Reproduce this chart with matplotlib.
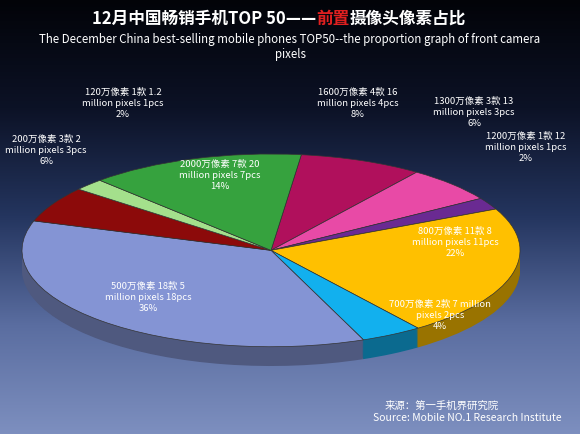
import matplotlib.pyplot as plt
import numpy as np
import matplotlib.colors as mcolors

plt.rcParams['font.family'] = ['Noto Sans CJK SC', 'DejaVu Sans']

labels = ["1600万像素 4款 16\nmillion pixels 4pcs\n8%",
          "1300万像素 3款 13\nmillion pixels 3pcs\n6%",
          "1200万像素 1款 12\nmillion pixels 1pcs\n2%",
          "800万像素 11款 8\nmillion pixels 11pcs\n22%",
          "700万像素 2款 7 million\npixels 2pcs\n4%",
          "500万像素 18款 5\nmillion pixels 18pcs\n36%",
          "200万像素 3款 2\nmillion pixels 3pcs\n6%",
          "120万像素 1款 1.2\nmillion pixels 1pcs\n2%",
          "2000万像素 7款 20\nmillion pixels 7pcs\n14%"]
shares = [8, 6, 2, 22, 4, 36, 6, 2, 14]
colors = ["#b0105c", "#e84aa6", "#6a2a92", "#ffc000", "#12b0ee",
          "#8494d4", "#8c0a0a", "#a4e08c", "#36a23e"]
# label positions in figure pixels (x, y from top)
label_pos = [(358, 103), (474, 112), (526, 147), (455, 242), (440, 315),
             (148, 297), (46, 150), (123, 103), (220, 175)]

fig = plt.figure(figsize=(5.8, 4.35), dpi=100)
bg = fig.add_axes([0, 0, 1, 1])
grad = np.linspace(0, 1, 256)[:, None]
cmap = mcolors.LinearSegmentedColormap.from_list(
    "bg", ["#020308", "#0c1226", "#24355f", "#5a6da0", "#7d8fbf"])
bg.imshow(grad, aspect='auto', cmap=cmap, extent=[0, 1, 0, 1], origin='upper')
bg.set_axis_off()

W, H = 580, 435
ax = fig.add_axes([22 / W, 1 - 367 / H, 498 / W, 212 / H])
dark = [tuple(c * 0.6 for c in mcolors.to_rgb(col)) for col in colors]
for dy in np.linspace(-0.2, -0.01, 20):
    ax.pie(shares, colors=dark, startangle=83, counterclock=False, center=(0, dy),
           wedgeprops=dict(linewidth=0))
ax.pie(shares, colors=colors, startangle=83, counterclock=False,
       wedgeprops=dict(linewidth=0.5, edgecolor='#333333'))
ax.set_aspect('auto')
ax.set_xlim(-1, 1)
ax.set_ylim(-1.2, 1)
ax.set_axis_off()

for txt, (x, y) in zip(labels, label_pos):
    fig.text(x / W, 1 - y / H, txt, ha='center', va='center', fontsize=6.8,
             color='white', linespacing=1.3)

fig.text(0.545, 1 - 19 / H, "12月中国畅销手机TOP 50——", ha='right', va='center',
         fontsize=12, fontweight='bold', color='white')
fig.text(0.545, 1 - 19 / H, "前置", ha='left', va='center', fontsize=12,
         fontweight='bold', color='#e02020')
fig.text(0.545 + 0.058, 1 - 19 / H, "摄像头像素占比", ha='left', va='center',
         fontsize=12, fontweight='bold', color='white')
fig.text(0.5, 1 - 47 / H,
         "The December China best-selling mobile phones TOP50--the proportion graph of front camera\npixels",
         ha='center', va='center', fontsize=8.3, color='white', linespacing=1.2)
fig.text(385 / W, 1 - 406 / H, "来源：第一手机界研究院", ha='left', va='center',
         fontsize=7.5, color='white')
fig.text(373 / W, 1 - 418 / H, "Source: Mobile NO.1 Research Institute", ha='left',
         va='center', fontsize=7.5, color='white')

fig.savefig("out.png", dpi=100)
